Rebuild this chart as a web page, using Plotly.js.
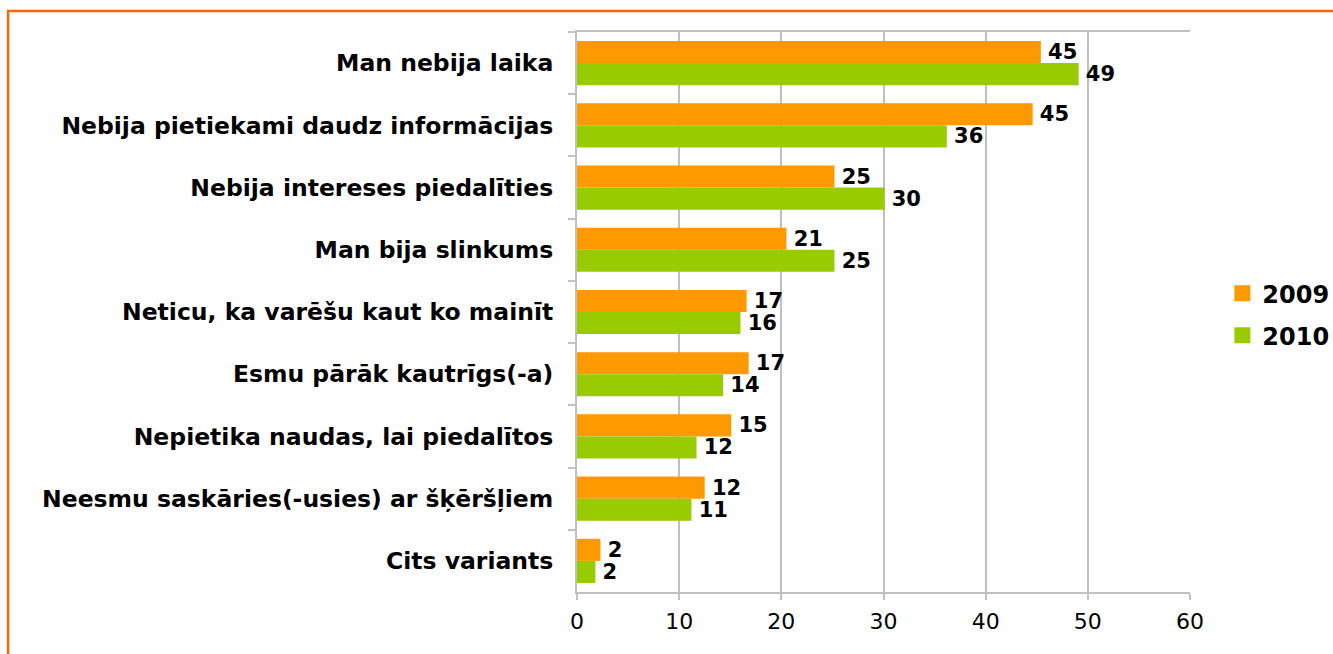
<!DOCTYPE html>
<html>
<head>
<meta charset="utf-8">
<script src="https://cdn.plot.ly/plotly-3.0.1.min.js"></script>
<style>
html,body{margin:0;padding:0;background:#fff;}
#chart{width:1333px;height:654px;}
</style>
</head>
<body>
<div id="chart"></div>
<script>
var categories = [
  "Man nebija laika",
  "Nebija pietiekami daudz informācijas",
  "Nebija intereses piedalīties",
  "Man bija slinkums",
  "Neticu, ka varēšu kaut ko mainīt",
  "Esmu pārāk kautrīgs(-a)",
  "Nepietika naudas, lai piedalītos",
  "Neesmu saskāries(-usies) ar šķēršļiem",
  "Cits variants"
];
var values2009 = [45.4, 44.6, 25.2, 20.5, 16.6, 16.8, 15.1, 12.5, 2.3];
var values2010 = [49.1, 36.2, 30.1, 25.2, 16.0, 14.3, 11.7, 11.2, 1.8];
var labels2009 = ["45", "45", "25", "21", "17", "17", "15", "12", "2"];
var labels2010 = ["49", "36", "30", "25", "16", "14", "12", "11", "2"];
var seriesNames = ["2009", "2010"];
var xTicks = [0, 10, 20, 30, 40, 50, 60];

var FONT = "DejaVu Sans, Verdana, sans-serif";
var C2009 = "#ff9900", C2010 = "#99cc00";

var labelFont = {family: FONT, size: 21, color: "#000", weight: "bold"};

var traces = [
  {type: "bar", orientation: "h", name: seriesNames[0], y: categories, x: values2009,
   text: labels2009, texttemplate: "\u2009%{text}", textposition: "outside", constraintext: "none",
   textfont: labelFont, cliponaxis: false,
   marker: {color: C2009}, showlegend: false, hoverinfo: "x+y"},
  {type: "bar", orientation: "h", name: seriesNames[1], y: categories, x: values2010,
   text: labels2010, texttemplate: "\u2009%{text}", textposition: "outside", constraintext: "none",
   textfont: labelFont, cliponaxis: false,
   marker: {color: C2010}, showlegend: false, hoverinfo: "x+y"},
  {type: "scatter", mode: "markers", name: seriesNames[0], x: [null], y: [null],
   marker: {symbol: "square", size: 16, color: C2009}, legendgroup: "a", hoverinfo: "skip"},
  {type: "scatter", mode: "markers", name: seriesNames[1], x: [null], y: [null],
   marker: {symbol: "square", size: 16, color: C2010}, legendgroup: "b", hoverinfo: "skip"}
];

var layout = {
  width: 1333, height: 654,
  margin: {l: 577, r: 143, t: 32, b: 62},
  paper_bgcolor: "#fff", plot_bgcolor: "#fff",
  font: {family: FONT, color: "#000"},
  barmode: "group", bargap: 0.29, bargroupgap: 0,
  xaxis: {
    range: [0, 60], tickvals: xTicks, ticktext: xTicks.map(String),
    showgrid: true, gridcolor: "#c0c0c0", gridwidth: 2,
    showline: true, linecolor: "#c0c0c0", linewidth: 2, mirror: true,
    ticks: "outside", ticklen: 6, tickwidth: 2, tickcolor: "#c0c0c0",
    tickfont: {family: FONT, size: 22, color: "#000"},
    ticklabelstandoff: 3,
    zeroline: false, fixedrange: true
  },
  yaxis: {
    type: "category", autorange: "reversed",
    showgrid: false, zeroline: false,
    showline: true, linecolor: "#c0c0c0", linewidth: 2,
    ticks: "outside", tickson: "boundaries", ticklen: 7, tickwidth: 2, tickcolor: "#c0c0c0",
    tickfont: {family: FONT, size: 23.5, color: "#000", weight: "bold"},
    ticklabelstandoff: 17, fixedrange: true
  },
  legend: {
    xref: "container", yref: "container",
    x: 0.917, xanchor: "left", y: 0.519, yanchor: "middle",
    font: {family: FONT, size: 24, color: "#000", weight: "bold"},
    tracegroupgap: 8, itemwidth: 30, bgcolor: "rgba(0,0,0,0)"
  },
  shapes: [
    {type: "path", xref: "paper", yref: "paper",
     path: "M -0.928,-0.3 L -0.928,1.0375 L 1.3,1.0375",
     line: {color: "#ff6600", width: 2.5}, layer: "above"}
  ]
};

Plotly.newPlot("chart", traces, layout, {displayModeBar: false, staticPlot: true});
</script>
</body>
</html>
